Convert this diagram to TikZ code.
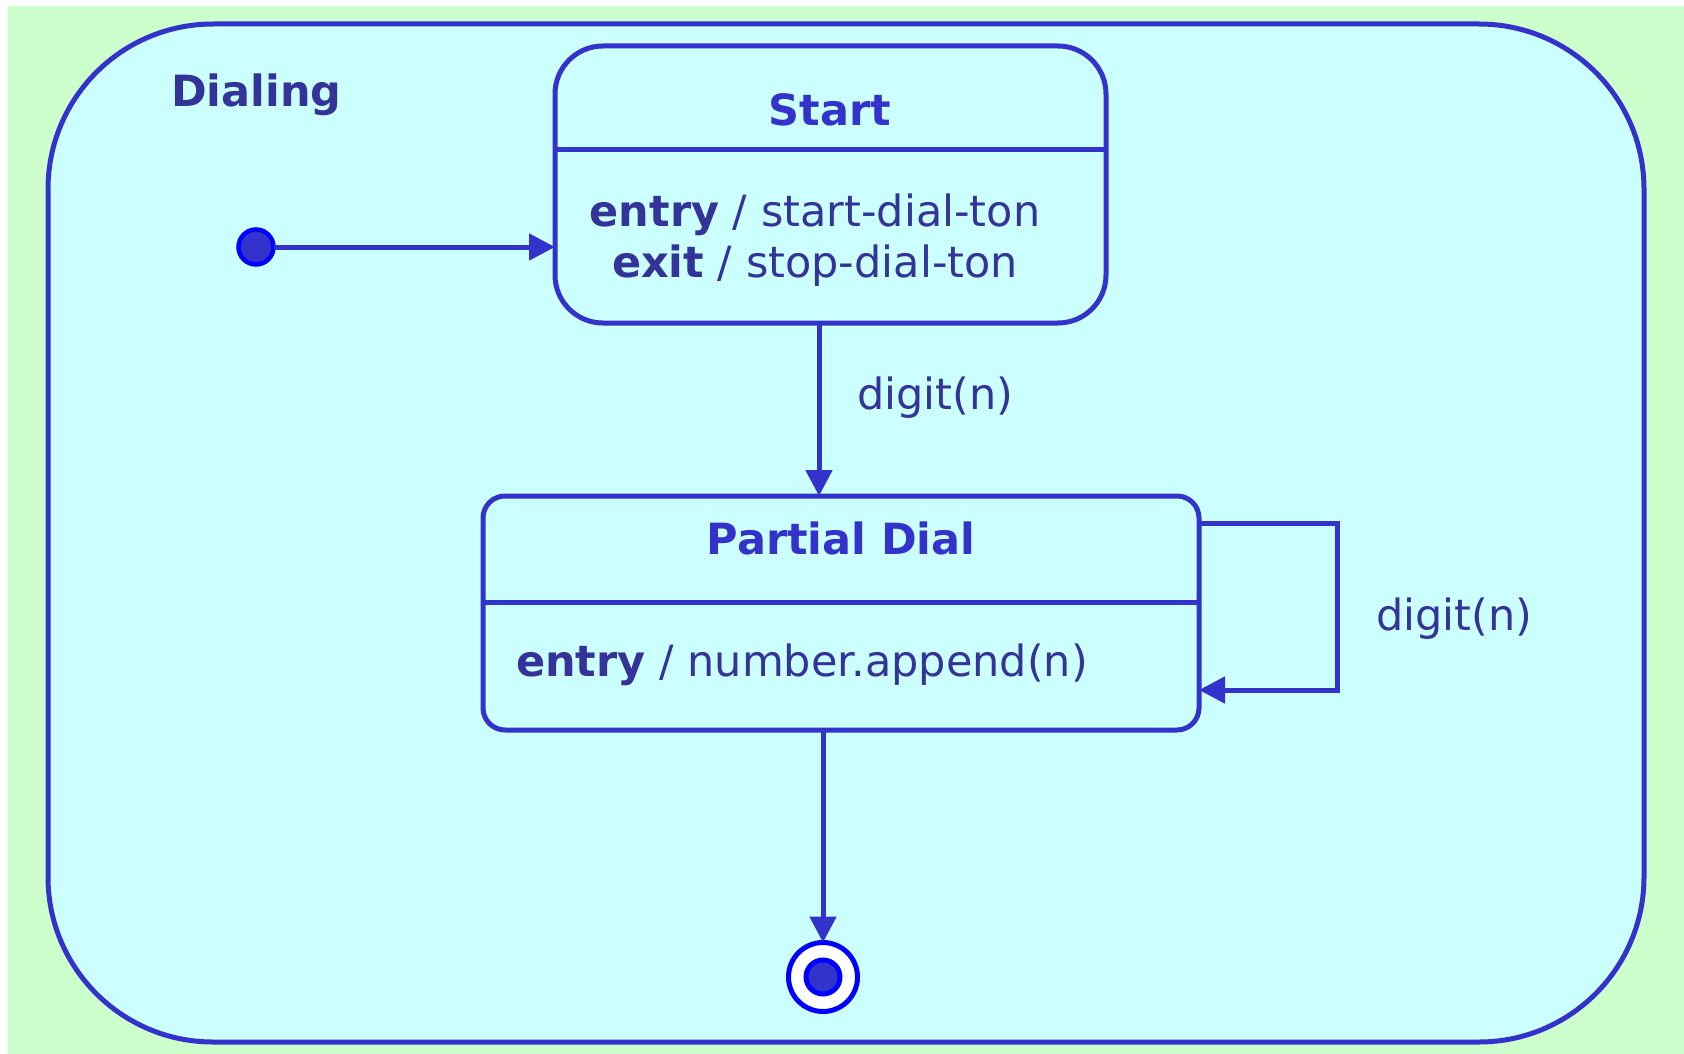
\documentclass[tikz,border=0pt]{standalone}
\usepackage{fontspec}
\setmainfont{DejaVu Sans}
\usetikzlibrary{arrows.meta}
\definecolor{bggreen}{HTML}{CCFFCC}
\definecolor{statefill}{HTML}{CCFFFF}
\definecolor{lineblue}{HTML}{3333CC}
\definecolor{textblue}{HTML}{333399}
\definecolor{pureblue}{HTML}{0000FF}
\begin{document}
\begin{tikzpicture}[x=1pt,y=-1pt,
  statebox/.style={draw=lineblue, line width=5pt, fill=statefill, inner sep=0pt, outer sep=0pt},
  divider/.style={draw=lineblue, line width=5pt},
  arr/.style={draw=lineblue, line width=5pt, -{Triangle[length=26pt,width=26pt]}},
  txt/.style={text=textblue, font=\fontsize{43}{50}\selectfont, inner sep=0pt},
  ttl/.style={text=lineblue, font=\fontsize{43}{50}\selectfont\bfseries, inner sep=0pt},
  pseudo/.style={circle, draw=pureblue, inner sep=0pt, outer sep=0pt}]
\useasboundingbox (0,0) rectangle (1684,1054);
\fill[white] (0,0) rectangle (1684,1054);
\fill[bggreen] (8,6) rectangle (1684,1054);
% composite state
\node[statebox, rounded corners=165pt, minimum width=1596pt, minimum height=1018pt] (dialing) at (846,533) {};
\node[txt, anchor=base west, font=\fontsize{43}{50}\selectfont\bfseries] (dialinglabel) at (171,107) {Dialing};
% Start state
\node[statebox, rounded corners=48pt, minimum width=551pt, minimum height=277pt] (start) at (830.5,184.5) {};
\draw[divider] ([yshift=-104pt]start.north west) -- ([yshift=-104pt]start.north east);
\node[ttl, anchor=base] (starttitle) at (830,126) {Start};
\node[txt, anchor=base] (startentry) at (815,226) {\textbf{entry} / start-dial-ton};
\node[txt, anchor=base] (startexit) at (815,277) {\textbf{exit} / stop-dial-ton};
% Partial Dial state
\node[statebox, rounded corners=22pt, minimum width=716pt, minimum height=234pt] (partial) at (841,613) {};
\draw[divider] ([yshift=-106pt]partial.north west) -- ([yshift=-106pt]partial.north east);
\node[ttl, anchor=base] (pdtitle) at (841,554) {Partial Dial};
\node[txt, anchor=base west] (pdentry) at (516,676) {\textbf{entry} / number.append(n)};
% pseudo states
\node[pseudo, fill=lineblue, line width=4.5pt, minimum size=35pt] (init) at (256,247) {};
\node[pseudo, fill=white, line width=5pt, minimum size=69pt] (final) at (823,977) {};
\node[pseudo, fill=lineblue, line width=5pt, minimum size=34pt] (finaldot) at (final.center) {};
% transitions
\draw[arr] (init.east) -- (start.west |- init.east);
\draw[arr] ([xshift=-11.5pt]start.south) -- ([xshift=-11.5pt]start.south |- partial.north);
\node[txt, anchor=base west] (lbl1) at (857,409) {digit(n)};
\draw[arr] (partial.south -| final.north) -- (final.north);
\draw[arr] ([yshift=-27pt]partial.north east) -| ([xshift=138pt,yshift=40pt]partial.south east) -- ([yshift=40pt]partial.south east);
\node[txt, anchor=base west] (lbl2) at (1376,630) {digit(n)};
\end{tikzpicture}
\end{document}
